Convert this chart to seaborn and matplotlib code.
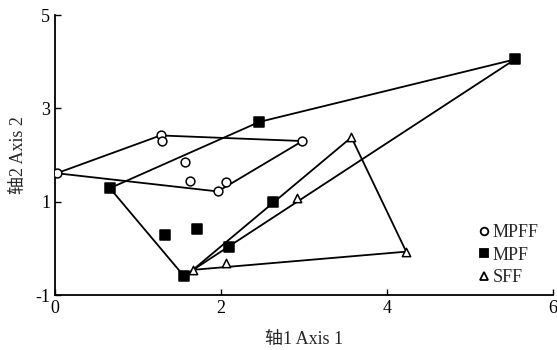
import matplotlib
matplotlib.use('Agg')
import matplotlib.pyplot as plt
import seaborn as sns
import pandas as pd
from matplotlib.lines import Line2D

# values
mpff_x = [0.02, 1.27, 1.29, 1.56, 1.63, 1.96, 2.06, 2.98]
mpff_y = [1.61, 2.42, 2.30, 1.86, 1.45, 1.22, 1.42, 2.30]
mpf_x = [0.66, 2.46, 2.62, 5.54, 1.32, 1.71, 2.09, 1.55]
mpf_y = [1.29, 2.71, 0.99, 4.05, 0.29, 0.42, 0.03, -0.59]
sff_x = [2.92, 3.57, 2.06, 1.66, 4.23]
sff_y = [1.09, 2.38, -0.32, -0.46, -0.07]

# hull vertex order (indices into the arrays above)
mpff_hull = [0, 1, 7, 5, 0]
mpf_hull = [0, 1, 3, 7, 0]
sff_hull = [3, 1, 4, 3]

groups = ['MPFF', 'MPF', 'SFF']
df = pd.DataFrame({
    'x': mpff_x + mpf_x + sff_x,
    'y': mpff_y + mpf_y + sff_y,
    'g': ['MPFF'] * len(mpff_x) + ['MPF'] * len(mpf_x) + ['SFF'] * len(sff_x),
})

sns.set_style('ticks')
plt.rcParams['font.family'] = ['Liberation Serif', 'Noto Sans CJK SC']
plt.rcParams['xtick.direction'] = 'in'
plt.rcParams['ytick.direction'] = 'in'
plt.rcParams['axes.unicode_minus'] = False

fig = plt.figure(figsize=(5.57, 3.5), dpi=100)
ax = fig.add_axes([0.099, 0.157, 0.894, 0.8])

# hull outlines
for xs, ys, idx in [(mpff_x, mpff_y, mpff_hull), (mpf_x, mpf_y, mpf_hull), (sff_x, sff_y, sff_hull)]:
    ax.plot([xs[i] for i in idx], [ys[i] for i in idx], color='black', lw=1.3, zorder=2)

markers = {'MPFF': 'o', 'MPF': 's', 'SFF': '^'}
faces = {'MPFF': 'white', 'MPF': 'black', 'SFF': 'white'}
sizes = {'MPFF': 40, 'MPF': 42, 'SFF': 36}
for g in groups:
    sub = df[df['g'] == g]
    sns.scatterplot(data=sub, x='x', y='y', marker=markers[g], s=sizes[g],
                    color=faces[g], edgecolor='black', linewidth=1.1,
                    ax=ax, zorder=3, legend=False)

ax.set_xlim(0, 6)
ax.set_ylim(-1, 5)
ax.set_xticks([0, 2, 4, 6])
ax.set_yticks([-1, 1, 3, 5])
ax.tick_params(labelsize=13, length=4, width=1, colors='black')
for s in ['left', 'bottom']:
    ax.spines[s].set_linewidth(1.3)
    ax.spines[s].set_color('black')
sns.despine(ax=ax)
ax.set_xlabel('轴1 Axis 1', fontsize=13, labelpad=10)
ax.set_ylabel('轴2 Axis 2', fontsize=13, labelpad=6)

handles = [Line2D([], [], ls='none', marker=markers[g], markerfacecolor=faces[g],
                  markeredgecolor='black', markersize=5.5, markeredgewidth=1.3) for g in groups]
ax.legend(handles, groups, loc='lower right', bbox_to_anchor=(1.0, -0.02), frameon=False,
          fontsize=13, handlelength=0.6, handletextpad=0.2, labelspacing=0.3, borderaxespad=0.4)

fig.savefig('out.png', dpi=100)
